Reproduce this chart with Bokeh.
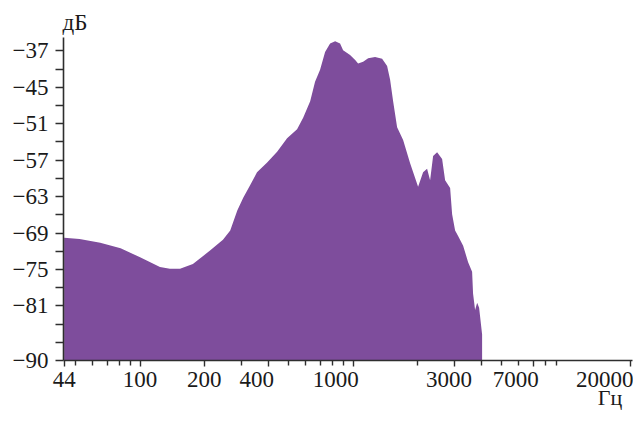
from bokeh.plotting import figure
from bokeh.models import FixedTicker, LogAxis, Range1d, ColumnDataSource
from bokeh.embed import file_html
from bokeh.resources import INLINE

# ---- data ----
freq_hz = [44, 52, 65, 81, 100, 124, 138, 154, 177, 213, 245, 265, 286, 305, 329,
           354, 395, 440, 490, 546, 583, 629, 663, 700, 739, 780, 824, 869, 898,
           968, 1023, 1056, 1115, 1177, 1269, 1369, 1445, 1492, 1542, 1610, 1718,
           1853, 2020, 2132, 2226, 2300, 2376, 2481, 2619, 2705, 2856, 2918, 3014,
           3113, 3287, 3469, 3622, 3660, 3741, 3824, 3907, 4035]
level_db = [-69.8, -70.0, -70.6, -71.5, -73.0, -74.6, -74.9, -74.9, -74.1, -71.9,
            -70.1, -68.6, -65.3, -63.2, -61.1, -59.0, -57.4, -55.6, -53.4, -51.9,
            -50.0, -47.3, -44.1, -42.1, -39.2, -37.8, -37.4, -37.8, -38.9, -39.7,
            -40.5, -41.1, -40.8, -40.2, -40.0, -40.3, -41.5, -43.7, -47.3, -51.6,
            -53.7, -57.5, -61.4, -59.0, -58.4, -60.3, -56.3, -55.7, -56.8, -60.3,
            -61.6, -65.9, -68.6, -69.5, -71.1, -73.8, -75.4, -79.0, -81.7, -80.5,
            -81.3, -85.7]
floor_db = -90

x_tick_values = [44, 100, 200, 400, 1000, 3000, 7000, 20000]
x_tick_labels = ["44", "100", "200", "400", "1000", "3000", "7000", "20000"]
x_minor_ticks = [50, 60, 70, 80, 90, 300, 500, 600, 700, 800, 900,
                 2000, 4000, 5000, 6000, 8000, 9000]

y_tick_values = [-90, -81, -75, -69, -63, -57, -51, -45, -39]
y_tick_labels = ["\u221290", "\u221281", "\u221275", "\u221269", "\u221263",
                 "\u221257", "\u221251", "\u221245", "\u221237"]
y_minor_ticks = [-87, -84, -78, -72, -66, -60, -54, -48, -42]

y_unit = "дБ"
x_unit = "Гц"

# ---- styling ----
FONT = "Liberation Serif"
FS = "23px"
TXT = "#1a1a1a"
AX = "#2e2e2e"
FILL = "#7e4d9c"
# the reference sets some x tick labels left of their tick: pad them on the right
PAD = "\u2007"
x_label_pad = {44: 0, 100: 0, 200: 0, 400: 2, 1000: 3, 3000: 1, 7000: 3, 20000: 0}

W, H = 633, 412
x_lo, x_hi = 43.7, 20510
y_lo, y_hi = -90, -36.8

p = figure(width=W, height=H, x_axis_type="log",
           x_range=Range1d(x_lo, x_hi), y_range=Range1d(y_lo, y_hi),
           output_backend="svg", toolbar_location=None,
           min_border_left=63, min_border_right=1, min_border_top=37, min_border_bottom=50)

src = ColumnDataSource(dict(f=freq_hz, db=level_db, base=[floor_db] * len(freq_hz)))
p.varea(x="f", y1="base", y2="db", source=src, fill_color=FILL, fill_alpha=1.0)

p.xgrid.visible = False
p.ygrid.visible = False
p.outline_line_color = None
p.background_fill_color = "white"
p.border_fill_color = "white"

for ax in (p.xaxis[0], p.yaxis[0]):
    ax.axis_line_color = AX
    ax.axis_line_width = 1.6
    ax.major_tick_line_color = AX
    ax.minor_tick_line_color = AX
    ax.major_tick_line_width = 1.4
    ax.minor_tick_line_width = 1.4
    ax.major_tick_in = 0
    ax.minor_tick_in = 0
    ax.major_label_text_font = FONT
    ax.major_label_text_font_size = FS
    ax.major_label_text_color = TXT

xa = p.xaxis[0]
xa.ticker = FixedTicker(ticks=x_tick_values, minor_ticks=x_minor_ticks)
xa.major_tick_out = 6
xa.minor_tick_out = 5
xa.major_label_standoff = 0
xa.major_label_overrides = {v: t + PAD * x_label_pad[v] for v, t in zip(x_tick_values, x_tick_labels)}

ya = p.yaxis[0]
ya.ticker = FixedTicker(ticks=y_tick_values, minor_ticks=y_minor_ticks)
ya.major_tick_out = 8
ya.minor_tick_out = 8
ya.major_label_standoff = 7
ya.major_label_overrides = {v: t for v, t in zip(y_tick_values, y_tick_labels)}

# unit of the y axis, above its top end
p.title.text = y_unit
p.title.align = "left"
p.title.offset = -1
p.title.standoff = 6
p.title.text_font = FONT
p.title.text_font_size = FS
p.title.text_font_style = "normal"
p.title.text_color = TXT

# unit of the x axis: a bare second axis row under the tick labels, one label at the right end
unit_axis = LogAxis(ticker=FixedTicker(ticks=[x_hi], minor_ticks=[]),
                    major_label_overrides={x_hi: x_unit},
                    axis_line_color=None, major_tick_line_color=None, minor_tick_line_color=None,
                    major_tick_out=0, major_tick_in=0, minor_tick_out=0, minor_tick_in=0,
                    major_label_standoff=-10,
                    major_label_text_font=FONT, major_label_text_font_size="22px",
                    major_label_text_color=TXT)
p.add_layout(unit_axis, "below")

open("out.html", "w").write(file_html(p, INLINE))
